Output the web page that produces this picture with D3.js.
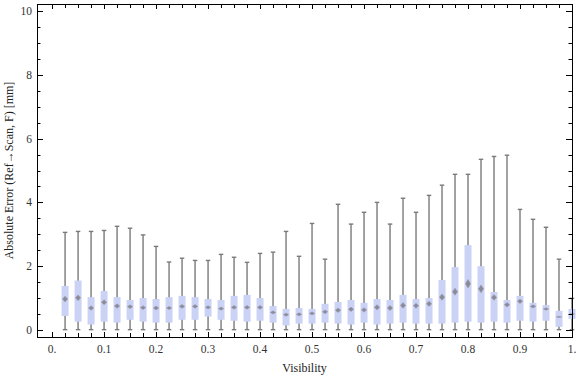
<!DOCTYPE html>
<html><head><meta charset="utf-8">
<script src="https://cdn.jsdelivr.net/npm/d3@7"></script>
<style>body{margin:0;background:#fff}svg{display:block}</style>
</head><body><svg id="c" width="576" height="377"></svg>
<script>
const visibility = [0.025,0.05,0.075,0.1,0.125,0.15,0.175,0.2,0.225,0.25,0.275,0.3,0.325,0.35,0.375,0.4,0.425,0.45,0.475,0.5,0.525,0.55,0.575,0.6,0.625,0.65,0.675,0.7,0.725,0.75,0.775,0.8,0.825,0.85,0.875,0.9,0.925,0.95,0.975,1.0];
const whiskerLow = [0.01,0.01,0.01,0.01,0.01,0.01,0.01,0.01,0.01,0.01,0.01,0.01,0.01,0.01,0.01,0.01,0.01,0.01,0.01,0.01,0.01,0.01,0.01,0.01,0.01,0.01,0.01,0.01,0.01,0.01,0.01,0.01,0.01,0.01,0.01,0.01,0.01,0.01,0.01,0.01];
const q1 = [0.44,0.26,0.17,0.26,0.23,0.32,0.26,0.23,0.23,0.32,0.32,0.42,0.32,0.29,0.26,0.29,0.23,0.14,0.20,0.20,0.23,0.20,0.17,0.23,0.17,0.20,0.23,0.20,0.20,0.20,0.23,0.26,0.23,0.26,0.23,0.29,0.26,0.29,0.10,0.35];
const median = [0.97,1.01,0.69,0.87,0.75,0.73,0.70,0.69,0.69,0.74,0.74,0.71,0.67,0.71,0.71,0.71,0.55,0.48,0.49,0.52,0.57,0.62,0.65,0.63,0.71,0.69,0.77,0.76,0.82,1.03,1.20,1.45,1.29,1.02,0.79,0.90,0.74,0.66,0.41,0.50];
const q3 = [1.38,1.55,1.03,1.22,1.03,0.94,1.00,0.97,1.03,1.07,1.03,0.97,0.94,1.07,1.10,1.00,0.75,0.66,0.69,0.66,0.82,0.88,0.94,0.85,0.97,0.94,1.10,0.97,1.00,1.57,1.97,2.66,2.00,1.19,0.94,1.07,0.85,0.78,0.60,0.66];
const whiskerHigh = [3.06,3.09,3.09,3.12,3.25,3.19,2.98,2.62,2.13,2.25,2.18,2.18,2.37,2.28,2.12,2.40,2.44,3.09,2.31,3.34,2.22,3.94,3.32,3.69,4.00,3.32,4.13,3.69,4.22,4.54,4.88,4.88,5.35,5.44,5.48,3.78,3.47,3.22,2.22,0.99];
const ciHalf = [0.09,0.09,0.07,0.08,0.07,0.06,0.06,0.06,0.05,0.06,0.06,0.05,0.05,0.06,0.06,0.06,0.05,0.05,0.05,0.05,0.06,0.07,0.07,0.07,0.08,0.08,0.09,0.08,0.08,0.10,0.11,0.13,0.12,0.09,0.07,0.07,0.05,0.04,0.01,0.02];
const xTickLabels = ["0.","0.1","0.2","0.3","0.4","0.5","0.6","0.7","0.8","0.9","1."];
const yTickLabels = ["0","2","4","6","8","10"];

const svg = d3.select("#c");
const L=37,R=572,T=4,B=337;
const x = d3.scaleLinear().domain([-0.029,1.0]).range([L,R]);
const y = d3.scaleLinear().domain([-0.22,10.22]).range([B,T]);
const font = "'Liberation Serif','Times New Roman',serif";
const data = visibility.map((v,i)=>({v,lo:whiskerLow[i],q1:q1[i],m:median[i],q3:q3[i],hi:whiskerHigh[i],ci:ciHalf[i]}));

const g = svg.append("g");
const bw = 7, cw = 4.5, dw = 2.6;
const boxes = g.selectAll("g.b").data(data).join("g");
boxes.append("line").attr("x1",d=>x(d.v)).attr("x2",d=>x(d.v)).attr("y1",d=>y(d.lo)).attr("y2",d=>y(d.hi))
  .attr("stroke","#7a7a7a").attr("stroke-width",1.4);
boxes.append("line").attr("x1",d=>x(d.v)-cw/2).attr("x2",d=>x(d.v)+cw/2).attr("y1",d=>y(d.hi)).attr("y2",d=>y(d.hi))
  .attr("stroke","#7a7a7a").attr("stroke-width",1.4);
boxes.append("line").attr("x1",d=>x(d.v)-cw/2).attr("x2",d=>x(d.v)+cw/2).attr("y1",d=>y(d.lo)).attr("y2",d=>y(d.lo))
  .attr("stroke","#7a7a7a").attr("stroke-width",1.4);
boxes.append("rect").attr("x",d=>x(d.v)-bw/2).attr("width",bw).attr("y",d=>y(d.q3)).attr("height",d=>y(d.q1)-y(d.q3))
  .attr("fill","#cad2f6");
boxes.append("path").attr("d",d=>{const cx=x(d.v),cy=y(d.m),h=Math.max(0.6,y(d.m-d.ci)-cy);
  return `M${cx-dw},${cy}L${cx},${cy-h}L${cx+dw},${cy}L${cx},${cy+h}Z`;})
  .attr("fill","#8a8a9a").attr("stroke","#9a9aa8").attr("stroke-width",0.6);

// frame
const ax = svg.append("g").attr("stroke","#000").attr("stroke-width",1).attr("fill","none");
ax.append("rect").attr("x",L).attr("y",T).attr("width",R-L).attr("height",B-T).attr("shape-rendering","crispEdges");
// x ticks
const xt = d3.range(0,41).map(i=>i*0.025);
xt.forEach(t=>{const px=Math.round(x(t))+0.5;const len=(Math.abs(t*10-Math.round(t*10))<1e-6)?5:4;
  ax.append("line").attr("x1",px).attr("x2",px).attr("y1",B).attr("y2",B-len);
  ax.append("line").attr("x1",px).attr("x2",px).attr("y1",T).attr("y2",T+len);});
const yt = d3.range(0,21).map(i=>i*0.5);
yt.forEach(t=>{const py=Math.round(y(t))+0.5;const major=(t%2===0);const len=major?6:3.5;
  ax.append("line").attr("x1",L).attr("x2",L+len).attr("y1",py).attr("y2",py);
  ax.append("line").attr("x1",R).attr("x2",R-len).attr("y1",py).attr("y2",py);});

const tl = svg.append("g").attr("font-family",font).attr("font-size",11.5).attr("fill","#333");
xTickLabels.forEach((s,i)=>tl.append("text").attr("x",x(i/10)).attr("y",353).attr("text-anchor","middle").text(s));
yTickLabels.forEach((s,i)=>tl.append("text").attr("x",32).attr("y",y(i*2)+4).attr("text-anchor","end").text(s));
svg.append("text").attr("font-family",font).attr("font-size",12).attr("fill","#222")
  .attr("x",(L+R)/2).attr("y",372).attr("text-anchor","middle").text("Visibility");
svg.append("text").attr("font-family",font).attr("font-size",12).attr("fill","#222")
  .attr("transform",`translate(13,${(T+B)/2}) rotate(-90)`).attr("text-anchor","middle").text("Absolute Error (Ref→Scan, F) [mm]");
</script></body></html>
